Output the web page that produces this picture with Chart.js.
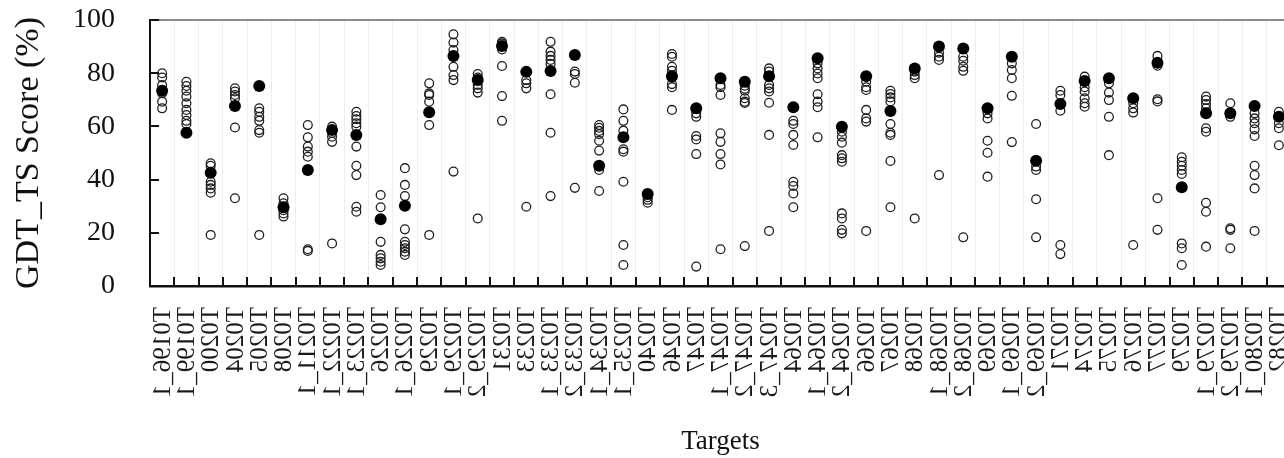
<!DOCTYPE html>
<html>
<head>
<meta charset="utf-8">
<script src="https://cdn.jsdelivr.net/npm/chart.js@4.4.0/dist/chart.umd.min.js"></script>
<style>
  html, body { margin: 0; padding: 0; background: #fff; overflow: hidden; }
  #wrap { width: 1300px; height: 458px; }
</style>
</head>
<body>
<div id="wrap"><canvas id="chart" width="1300" height="458"></canvas></div>
<script>
const targets = ['T0196_1', 'T0199_1', 'T0200', 'T0204', 'T0205', 'T0208', 'T0211_1', 'T0222_1',
  'T0223_1', 'T0226', 'T0226_1', 'T0229', 'T0229_1', 'T0229_2', 'T0231', 'T0233', 'T0233_1',
  'T0233_2', 'T0234_1', 'T0235_1', 'T0240', 'T0246', 'T0247', 'T0247_1', 'T0247_2', 'T0247_3',
  'T0264', 'T0264_1', 'T0264_2', 'T0266', 'T0267', 'T0268', 'T0268_1', 'T0268_2', 'T0269',
  'T0269_1', 'T0269_2', 'T0271', 'T0274', 'T0275', 'T0276', 'T0277', 'T0279', 'T0279_1',
  'T0279_2', 'T0280_1', 'T0282'];

// filled circles, one per target
const highlightScores = [73.4, 57.6, 42.6, 67.7, 75.2, 29.6, 43.6, 58.6, 56.8, 25.1, 30.2, 65.3,
  86.5, 77.4, 90.2, 80.5, 80.8, 86.8, 45.2, 55.9, 34.6, 78.9, 66.8, 78.1, 76.8, 78.9, 67.2, 85.6,
  59.9, 78.9, 65.8, 81.8, 90.0, 89.3, 66.8, 86.2, 47.1, 68.4, 77.1, 78.1, 70.6, 83.9, 37.1, 64.9,
  64.9, 67.7, 63.6];

// open circles, one list per target
const modelScores = [
  [80, 78.4, 75.5, 72.5, 69.3, 66.8],
  [76.8, 75.2, 73.4, 71.2, 68.7, 66.2, 64.3, 62.1, 60.9],
  [46.1, 45.2, 39.2, 38.0, 36.7, 35.1, 19.2],
  [74.3, 73.1, 71.8, 70.6, 59.6, 33.0],
  [66.8, 65.5, 63.6, 62.1, 58.6, 57.6, 19.2],
  [33.0, 31.1, 28.5, 27.3, 26.1],
  [60.5, 55.9, 52.4, 50.5, 48.6, 13.8, 13.2],
  [59.9, 57.5, 56.1, 54.2, 16.0],
  [65.5, 63.9, 62.7, 61.2, 59.9, 52.4, 45.2, 41.7, 29.8, 27.9],
  [34.2, 29.6, 16.6, 11.7, 10.4, 9.1, 7.9],
  [44.3, 38.0, 33.8, 21.3, 16.6, 15.4, 14.2, 12.9, 11.7],
  [76.2, 72.4, 71.8, 69.3, 60.5, 19.2],
  [94.6, 91.5, 88.7, 82.4, 79.3, 77.4, 43.0],
  [79.7, 78.4, 75.6, 74.3, 72.7, 25.4],
  [91.8, 91.2, 88.9, 82.7, 71.4, 62.1],
  [77.4, 76.2, 74.3, 29.8],
  [91.8, 88.1, 86.5, 85.0, 83.5, 72.1, 57.6, 33.8],
  [80.6, 79.7, 76.4, 36.9],
  [60.5, 59.5, 58.3, 57.1, 54.6, 50.9, 43.6, 35.7],
  [66.4, 62.1, 58.4, 51.4, 50.5, 39.2, 15.4, 7.9],
  [33.4, 32.4, 31.3],
  [87.2, 86.2, 82.4, 80.9, 78.2, 75.9, 74.7, 66.2],
  [64.9, 63.6, 56.4, 55.1, 49.6, 7.3],
  [75.6, 74.7, 71.8, 57.4, 54.2, 49.6, 45.7, 13.8],
  [75.3, 74.2, 73.4, 70.6, 69.3, 68.8, 15.0],
  [81.8, 80.6, 75.6, 74.3, 73.1, 68.9, 56.8, 20.7],
  [62.1, 60.9, 56.8, 53.0, 39.2, 37.6, 34.8, 29.6],
  [83.7, 81.8, 79.9, 78.1, 72.1, 69.3, 67.2, 55.9],
  [58.0, 56.1, 53.9, 49.2, 48.0, 46.7, 27.3, 25.4, 21.1, 19.8],
  [76.8, 74.7, 73.7, 66.2, 63.0, 61.8, 20.7],
  [73.4, 72.2, 70.9, 69.4, 60.9, 57.6, 56.8, 47.0, 29.6],
  [80.6, 79.3, 78.1, 25.4],
  [87.7, 86.2, 85.0, 41.7],
  [86.2, 84.7, 82.4, 80.9, 18.3],
  [64.9, 63.0, 54.6, 50.1, 41.1],
  [83.7, 81.2, 78.1, 71.5, 54.1],
  [60.9, 44.9, 43.6, 32.6, 18.3],
  [73.4, 71.8, 65.9, 15.4, 12.0],
  [78.7, 74.7, 73.1, 70.6, 68.7, 67.4],
  [76.2, 72.7, 69.9, 63.6, 49.2],
  [68.7, 66.8, 65.2, 15.4],
  [86.5, 82.8, 70.2, 69.4, 33.0, 21.1],
  [48.4, 46.7, 45.2, 43.6, 42.1, 16.0, 14.2, 7.9],
  [71.2, 69.9, 68.4, 66.8, 59.3, 58.0, 31.3, 27.9, 14.8],
  [68.7, 63.6, 21.7, 21.1, 14.2],
  [64.9, 63.0, 61.2, 58.9, 56.4, 45.2, 41.7, 36.7, 20.7],
  [65.5, 61.2, 59.3, 52.9]
];

const yTicks = [0, 20, 40, 60, 80, 100];

const serif = "'Liberation Serif', 'Times New Roman', serif";

const openPoints = [];
modelScores.forEach((list, i) => {
  list.forEach(v => openPoints.push({ x: targets[i], y: v }));
});
const filledPoints = highlightScores.map((v, i) => ({ x: targets[i], y: v }));

function noEdgePadding(scale) {
  scale.paddingTop = 0;
  scale.paddingBottom = 0;
  scale.paddingLeft = 0;
  scale.paddingRight = 0;
}

// inward ticks, top frame line and the flipped target labels
const axisExtras = {
  id: 'axisExtras',
  afterDraw(chart) {
    const { ctx, chartArea } = chart;
    const xs = chart.scales.x;
    const ys = chart.scales.y;
    ctx.save();

    ctx.strokeStyle = '#8c8c8c';
    ctx.lineWidth = 2;
    ctx.beginPath();
    ctx.moveTo(chartArea.left, chartArea.top);
    ctx.lineTo(chartArea.right, chartArea.top);
    ctx.stroke();

    ctx.strokeStyle = '#111';
    ctx.lineWidth = 2;
    for (let i = 0; i <= targets.length; i++) {
      const px = Math.round(xs.getPixelForValue(i - 0.5));
      ctx.beginPath();
      ctx.moveTo(px, chartArea.bottom);
      ctx.lineTo(px, chartArea.bottom - 9);
      ctx.stroke();
    }
    yTicks.forEach(v => {
      const py = Math.round(ys.getPixelForValue(v));
      ctx.beginPath();
      ctx.moveTo(chartArea.left, py);
      ctx.lineTo(chartArea.left + 9, py);
      ctx.stroke();
    });

    ctx.fillStyle = '#1a1a1a';
    ctx.font = '25px ' + serif;
    ctx.textAlign = 'left';
    ctx.textBaseline = 'middle';
    targets.forEach((t, i) => {
      ctx.save();
      ctx.translate(xs.getPixelForValue(i) + 1, chartArea.bottom + 21);
      ctx.rotate(-Math.PI / 2);
      ctx.scale(-1, 1);
      ctx.fillText(t, 0, 0);
      ctx.restore();
    });
    ctx.restore();
  }
};

new Chart(document.getElementById('chart'), {
  type: 'scatter',
  data: {
    datasets: [
      {
        data: filledPoints,
        pointRadius: 6,
        pointBackgroundColor: '#000',
        pointBorderColor: '#000',
        pointBorderWidth: 0
      },
      {
        data: openPoints,
        pointRadius: 4.4,
        pointBackgroundColor: 'rgba(0,0,0,0)',
        pointBorderColor: '#1e1e1e',
        pointBorderWidth: 1.3
      }
    ]
  },
  options: {
    responsive: false,
    animation: false,
    devicePixelRatio: 1,
    layout: { padding: { top: 20, right: 9, bottom: 0, left: 0 } },
    plugins: { legend: { display: false }, tooltip: { enabled: false } },
    scales: {
      x: {
        type: 'category',
        labels: targets,
        offset: true,
        grid: { offset: true, color: '#eeeeee', lineWidth: 1, drawTicks: false },
        border: { display: true, color: '#111', width: 2.5 },
        ticks: { display: false },
        title: {
          display: true,
          text: 'Targets',
          color: '#111',
          font: { family: serif, size: 27 },
          padding: 0
        },
        afterFit(scale) { scale.height = 172; noEdgePadding(scale); }
      },
      y: {
        min: 0,
        max: 100,
        grid: { drawOnChartArea: false, drawTicks: false, color: 'rgba(0,0,0,0)' },
        border: { display: true, color: '#111', width: 2 },
        ticks: {
          stepSize: 20,
          padding: 35,
          color: '#111',
          font: { family: serif, size: 28 }
        },
        title: {
          display: true,
          text: 'GDT_TS Score (%)',
          color: '#111',
          font: { family: serif, size: 34 },
          padding: { top: 9, bottom: 0 }
        },
        afterFit(scale) { scale.width = 150; noEdgePadding(scale); }
      }
    }
  },
  plugins: [axisExtras]
});
</script>
</body>
</html>
